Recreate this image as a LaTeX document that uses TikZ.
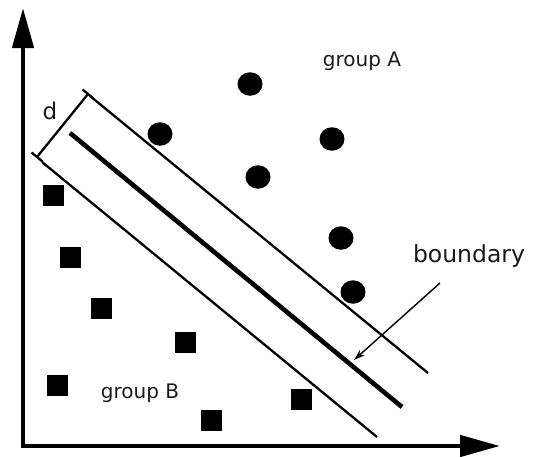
\documentclass[tikz,border=0pt]{standalone}
\usepackage{fontspec}
\setmainfont{DejaVu Sans}
\usetikzlibrary{arrows.meta,calc,shapes.geometric}
\definecolor{txt}{HTML}{1A1A1A}
\begin{document}
\begin{tikzpicture}[x=1pt,y=-1pt,
  dot/.style={ellipse,fill=black,minimum width=25pt,minimum height=23.5pt,inner sep=0pt},
  sq/.style={rectangle,fill=black,minimum size=21pt,inner sep=0pt},
  lbl/.style={text=txt,font=\fontsize{20}{24}\selectfont,inner sep=0pt},
  axis/.style={line width=4.6pt,-{Triangle[length=40pt,width=21pt]}},
  thin/.style={line width=2.3pt},
  thick/.style={line width=4.6pt}]
\useasboundingbox (0,0) rectangle (533,456);
% axes
\coordinate (O) at (23,446);
\coordinate (Ytip) at (23,8);
\coordinate (Xtip) at (500,446);
\draw[axis] ([yshift=2.3pt]O) -- (Ytip);
\draw[axis] ([xshift=-2.3pt]O) -- (Xtip);
% margin lines
\coordinate (U1) at (90,96);
\coordinate (U2) at (428,373);
\coordinate (M1) at (70,133);
\coordinate (M2) at (402,407);
\coordinate (L1) at (42,162);
\coordinate (L2) at (377,437);
\draw[thin] (U1) -- (U2);
\draw[thick] (M1) -- (M2);
\draw[thin] (L1) -- (L2);
% d bracket
\coordinate (D1) at (37,157);
\coordinate (D2) at (88,94);
\draw[thin] (D1) -- (D2);
\draw[thin] ($(D1)+(-5.5,-4.5)$) -- ($(D1)+(5.5,4.5)$);
\draw[thin] ($(D2)+(-5.5,-4.5)$) -- ($(D2)+(5.5,4.5)$);
\node[lbl,font=\fontsize{23}{27}\selectfont] (d) at (50,111) {d};
% group A
\node[dot] (a1) at (250,84) {};
\node[dot] (a2) at (160,134) {};
\node[dot] (a3) at (332,139) {};
\node[dot] (a4) at (258,177) {};
\node[dot] (a5) at (341,238) {};
\node[dot] (a6) at (353,292) {};
\node[lbl] (gA) at (362,61) {group A};
% group B
\node[sq] (b1) at (53,195) {};
\node[sq] (b2) at (70,257) {};
\node[sq] (b3) at (101,308) {};
\node[sq] (b4) at (185,342) {};
\node[sq] (b5) at (57,385) {};
\node[sq] (b6) at (211,420) {};
\node[sq] (b7) at (301,399) {};
\node[lbl] (gB) at (140,393) {group B};
% boundary label
\node[lbl,font=\fontsize{23.5}{28}\selectfont] (bd) at (469,256) {boundary};
\coordinate (Btail) at (440,283);
\coordinate (Bhead) at (354,360);
\draw[line width=1.4pt,-{Stealth[length=11pt,width=7pt]}] (Btail) -- (Bhead);
\end{tikzpicture}
\end{document}
